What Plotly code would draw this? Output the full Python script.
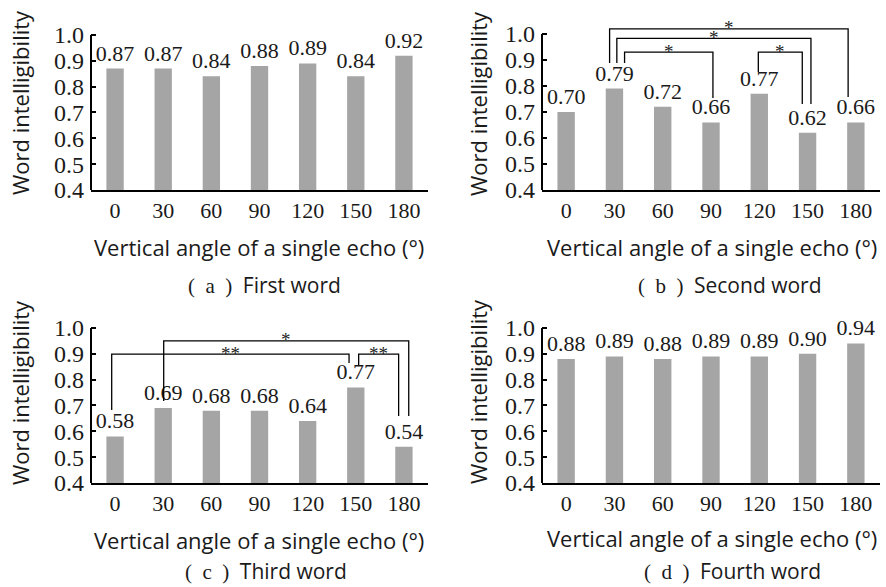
import plotly.graph_objects as go

categories = ["0", "30", "60", "90", "120", "150", "180"]
first_word = [0.87, 0.87, 0.84, 0.88, 0.89, 0.84, 0.92]
second_word = [0.70, 0.79, 0.72, 0.66, 0.77, 0.62, 0.66]
third_word = [0.58, 0.69, 0.68, 0.68, 0.64, 0.77, 0.54]
fourth_word = [0.88, 0.89, 0.88, 0.89, 0.89, 0.90, 0.94]
y_ticks = [0.4, 0.5, 0.6, 0.7, 0.8, 0.9, 1.0]
y_tick_labels = ["0.4", "0.5", "0.6", "0.7", "0.8", "0.9", "1.0"]

# significance comparisons: (from category, to category, label)
second_sig = [("30", "180", "*"), ("30", "150", "*"), ("30", "90", "*"), ("120", "150", "*")]
third_sig = [("0", "150", "**"), ("30", "180", "*"), ("150", "180", "**")]

W, H = 886, 587
SERIF = "Liberation Serif"
SANS = "Open Sans"
BAR = "#a5a5a5"
TXT = "#1a1a1a"
SP = "\u2002"

# panel geometry in pixels: x_left, x_right, y_px(0.4), y_px(1.0)
panels = [
    dict(vals=first_word, px=(91, 428, 190, 35), cap=("a", "First word"), xt_y=247, cap_y=285, yt_y=103),
    dict(vals=second_word, px=(542, 880, 190, 34), cap=("b", "Second word"), xt_y=247, cap_y=285, yt_y=103),
    dict(vals=third_word, px=(91, 428, 483, 328), cap=("c", "Third word"), xt_y=540, cap_y=None, yt_y=393),
    dict(vals=fourth_word, px=(542, 880, 483, 328), cap=("d", "Fourth word"), xt_y=538, cap_y=None, yt_y=391),
]
x_title = "Vertical angle of a single echo (°)"
cap_x = [264, 730, 266, 732]
xt_x = [259, 712, 259, 712]
yt_x = [20, 478, 20, 478]

YTOP = 1.1
fig = go.Figure()
annotations = []
shapes = []

for i, p in enumerate(panels):
    n = i + 1
    xa = "x" if n == 1 else f"x{n}"
    ya = "y" if n == 1 else f"y{n}"
    xl, xr, y04, y10 = p["px"]
    per = (y04 - y10) / 0.6
    ytop_px = y10 - (YTOP - 1.0) * per
    fig.add_trace(go.Bar(
        x=categories, y=p["vals"], xaxis=xa, yaxis=ya,
        marker=dict(color=BAR, line=dict(width=0)), width=0.36,
        text=[f"{v:.2f}" for v in p["vals"]], textposition="outside", constraintext="none",
        textfont=dict(family=SERIF, size=22, color=TXT), cliponaxis=False,
        showlegend=False, hoverinfo="skip",
    ))
    fig.layout[("xaxis" if n == 1 else f"xaxis{n}")] = dict(
        domain=[xl / W, xr / W], anchor=ya, type="category", range=[-0.5, 6.5],
        showline=True, linecolor="black", linewidth=2, ticks="", automargin=False,
        tickfont=dict(family=SERIF, size=22, color=TXT), showgrid=False, zeroline=False,
        fixedrange=True,
    )
    fig.layout[("yaxis" if n == 1 else f"yaxis{n}")] = dict(
        domain=[1 - y04 / H, 1 - ytop_px / H], anchor=xa, range=[0.4, YTOP], automargin=False,
        tickvals=y_ticks, ticktext=y_tick_labels, ticks="inside", ticklen=5, tickwidth=2,
        tickcolor="black", showline=False, showgrid=False, zeroline=False, ticklabelstandoff=6,
        tickfont=dict(family=SERIF, size=24, color=TXT), fixedrange=True,
    )
    shapes.append(dict(type="line", xref=f"{xa} domain", yref=ya, x0=0, x1=0, y0=0.4, y1=1.0,
                       line=dict(color="black", width=2)))
    annotations.append(dict(text="Word intelligibility", textangle=-90, xref="paper", yref="paper",
                            x=yt_x[i] / W, y=1 - p["yt_y"] / H, xanchor="center", yanchor="middle",
                            showarrow=False, font=dict(family=SANS, size=22, color=TXT)))
    annotations.append(dict(text=x_title, xref="paper", yref="paper",
                            x=xt_x[i] / W, y=1 - p["xt_y"] / H, xanchor="center", yanchor="middle",
                            showarrow=False, font=dict(family=SANS, size=22, color=TXT)))
    letter, word = p["cap"]
    cap = dict(
        text=f"<span style='font-family:{SERIF}'>({SP}{letter}{SP})</span>{SP}{word}",
        xref="paper", yref="paper", x=cap_x[i] / W, xanchor="center",
        showarrow=False, font=dict(family=SANS, size=21, color=TXT))
    if p["cap_y"] is None:
        cap.update(y=0, yanchor="bottom")
    else:
        cap.update(y=1 - p["cap_y"] / H, yanchor="middle")
    annotations.append(cap)

# bracket geometry: (x_left, x_right, y_bar, y_left_end, y_right_end) in data units
second_geom = [(0.90, 5.84, 1.020, 0.888, 0.758), (1.05, 5.07, 0.983, 0.888, 0.731),
               (1.21, 3.04, 0.930, 0.888, 0.754), (3.98, 4.89, 0.930, 0.854, 0.731)]
third_geom = [(-0.07, 4.86, 0.899, 0.683, 0.865), (1.01, 6.10, 0.950, 0.717, 0.659),
              (5.06, 5.89, 0.899, 0.857, 0.659)]


def cat_pos(c):
    return categories.index(c)


for sig, geom, xa, ya in [(second_sig, second_geom, "x2", "y2"), (third_sig, third_geom, "x3", "y3")]:
    for (c0, c1, lab), (x0, x1, yb, yl, yr) in zip(sig, geom):
        a = cat_pos(c0) + (x0 - round(x0))
        b = cat_pos(c1) + (x1 - round(x1))
        path = f"M {a},{yl} L {a},{yb} L {b},{yb} L {b},{yr}"
        shapes.append(dict(type="path", xref=xa, yref=ya, path=path,
                           line=dict(color="black", width=1.3)))
        annotations.append(dict(text=lab, xref=xa, yref=ya, x=(a + b) / 2, y=yb, yanchor="middle",
                                xanchor="center", yshift=1, showarrow=False,
                                font=dict(family=SERIF, size=19, color="#222")))

fig.update_layout(template="none", width=W, height=H,
                  margin=dict(l=0, r=0, t=0, b=0, pad=0, autoexpand=False),
                  paper_bgcolor="white", plot_bgcolor="white",
                  annotations=annotations, shapes=shapes, bargap=0.6)
css = ("var s='margin:0;padding:0;overflow:hidden;';"
       "document.documentElement.style.cssText=s;document.body.style.cssText=s;")
fig.write_html("out.html", config={"displayModeBar": False, "responsive": False}, post_script=css)
